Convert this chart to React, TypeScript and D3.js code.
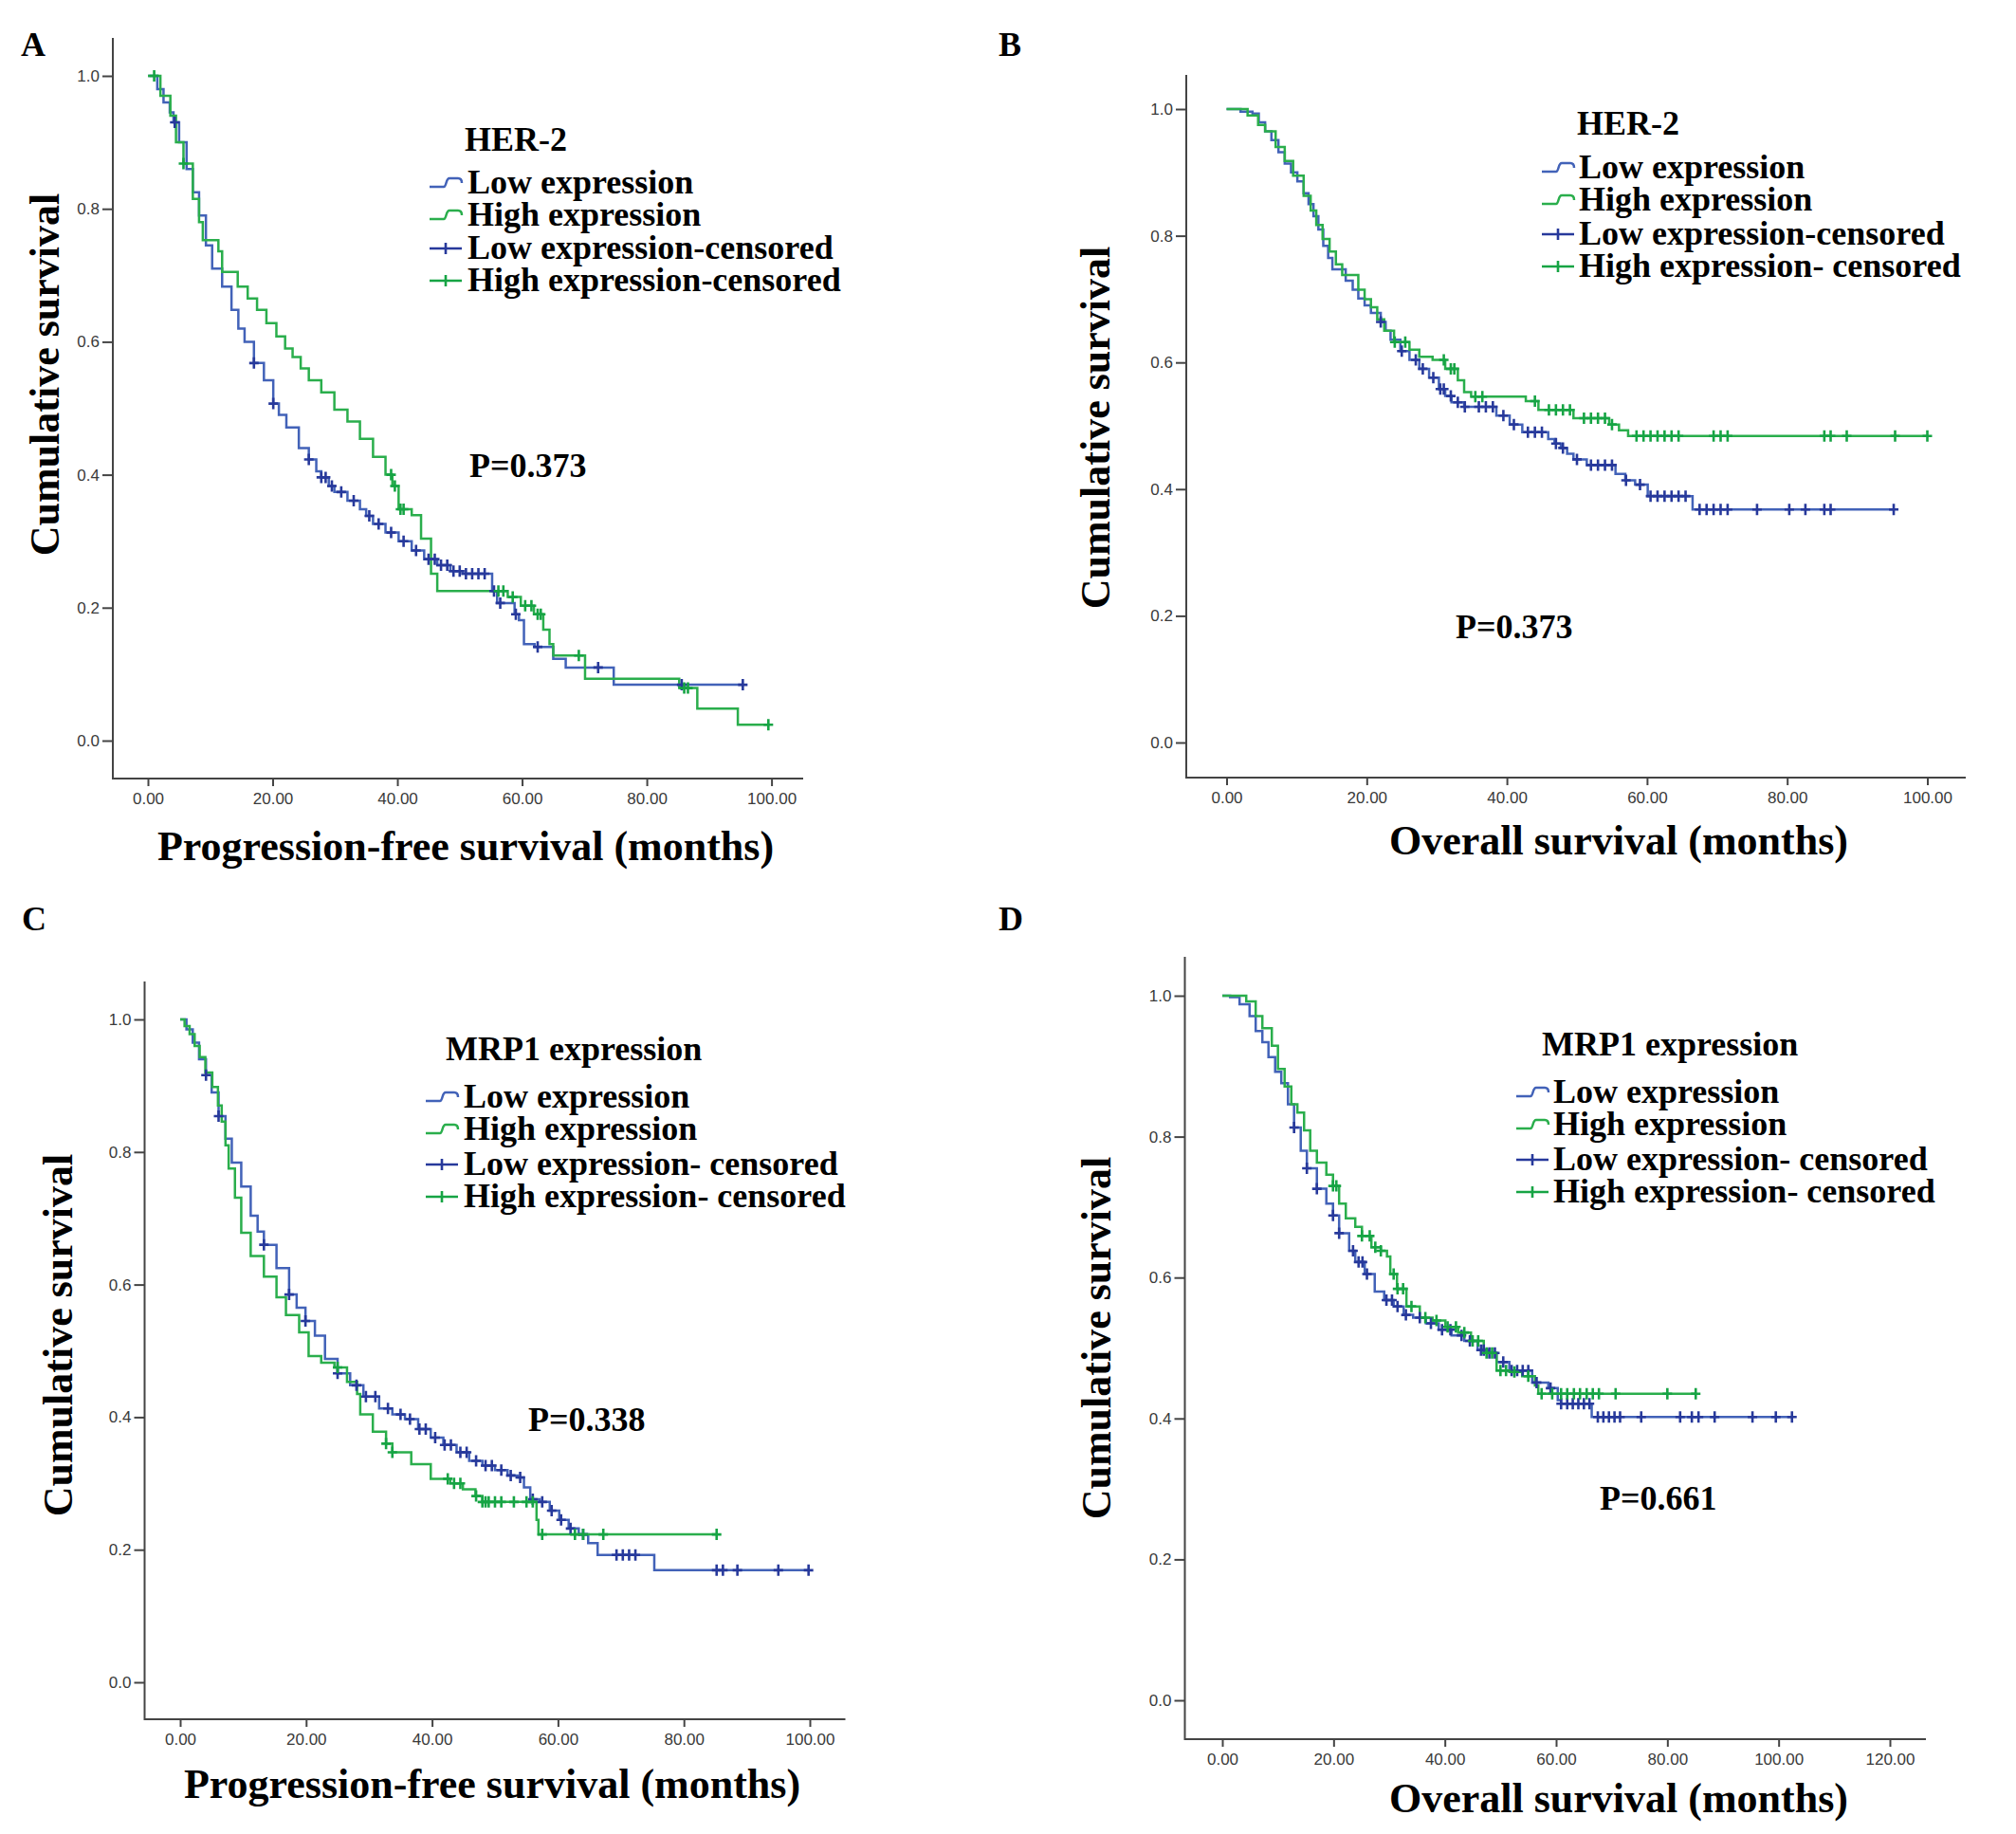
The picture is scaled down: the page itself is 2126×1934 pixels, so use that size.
import React, { useEffect, useRef } from 'react';
import * as d3 from 'd3';

// Kaplan-Meier curves: [months, cumulative survival]
const herPfsLow: [number, number][] = [[0,1],[1.5,0.98],[2.5,0.96],[3.5,0.945],[4.1,0.93],[5,0.9],[6.2,0.86],[7.2,0.825],[8.2,0.79],[9.3,0.745],[10.3,0.71],[11.9,0.683],[13.4,0.648],[14.5,0.62],[15.5,0.6],[17,0.568],[18.6,0.542],[20.1,0.507],[21,0.49],[22.2,0.471],[24.2,0.44],[25.8,0.423],[27,0.405],[27.8,0.396],[29,0.383],[29.9,0.374],[32,0.361],[34,0.348],[35,0.338],[36.1,0.326],[38.1,0.313],[40.2,0.3],[42.3,0.286],[44.3,0.273],[46.4,0.264],[48.5,0.255],[50.5,0.251],[55.2,0.225],[56,0.207],[58.8,0.19],[59.5,0.181],[60.3,0.145],[62,0.141],[65,0.123],[67,0.11],[74.7,0.084]];
const herPfsLowCensored = [4.3,17,20.1,25.8,27.8,28.5,29.5,31,33,35.5,37,39,41,43,45,46,47,48,49,50,51,52,53,54,55.5,56.5,59,62.5,72.2,85.6,95.4];
const herPfsHigh: [number, number][] = [[0,1],[2,0.97],[3.6,0.94],[4.5,0.9],[5.7,0.868],[7.2,0.815],[8.2,0.78],[8.8,0.753],[11.3,0.736],[11.9,0.705],[14.4,0.683],[16,0.665],[17.5,0.648],[19,0.628],[20.6,0.608],[22,0.59],[23.2,0.577],[24.5,0.56],[25.8,0.542],[27.8,0.524],[29.9,0.498],[32,0.48],[34,0.454],[36.1,0.427],[38.1,0.4],[39.2,0.383],[40.2,0.348],[42.3,0.339],[43.8,0.304],[45.4,0.251],[46.4,0.225],[57.7,0.216],[59.8,0.203],[61.9,0.19],[63.4,0.167],[64.4,0.145],[65,0.128],[70.1,0.093],[85.2,0.079],[88.1,0.048],[94.6,0.024]];
const herPfsHighCensored = [1,5.7,39,39.6,40.5,41,56.2,57,58.5,60.5,61.5,62.5,63,69.1,86,86.6,99.5];

const herOsLow: [number, number][] = [[0,1],[2,0.996],[3.7,0.993],[4.6,0.979],[5.5,0.965],[6.4,0.951],[7.4,0.932],[8.3,0.914],[9.2,0.9],[10.1,0.886],[11,0.867],[11.7,0.85],[12.4,0.831],[13.1,0.81],[13.8,0.784],[14.5,0.765],[15.1,0.747],[17,0.729],[18,0.715],[18.8,0.701],[19.7,0.69],[20.6,0.678],[22,0.664],[22.7,0.65],[23.4,0.636],[24.8,0.618],[26.1,0.604],[27.5,0.59],[28.9,0.576],[30.3,0.558],[31.2,0.547],[32.1,0.537],[33.9,0.53],[38.5,0.516],[40.4,0.502],[42.2,0.49],[45.9,0.479],[46.8,0.472],[47.7,0.465],[48.6,0.456],[49.5,0.447],[51.4,0.438],[55.5,0.424],[56.9,0.414],[58.3,0.407],[60.1,0.389],[66.5,0.368]];
const herOsLowCensored = [22,25,27,28,29.5,30.5,31,32,33,34,36,37,38,39.5,41,43,44,45,47,48,50,52,53,54,55,57,59,60.5,61.5,62.5,63.5,64.5,65.5,67.5,68.5,69.5,70.5,71.5,75.7,80.3,82.6,85.3,86.2,95.2];
const herOsHigh: [number, number][] = [[0,1],[3,0.99],[4.5,0.975],[5.5,0.965],[7,0.94],[8.3,0.918],[9.5,0.895],[11,0.863],[12,0.84],[12.8,0.817],[13.7,0.795],[14.7,0.775],[15.6,0.755],[16.5,0.738],[18.8,0.715],[19.7,0.7],[20.6,0.687],[21.5,0.668],[22.5,0.65],[23.9,0.632],[26.1,0.62],[27.5,0.609],[29.4,0.604],[31.2,0.59],[33,0.572],[33.9,0.553],[34.9,0.546],[42.7,0.539],[44.5,0.525],[49.5,0.512],[54.6,0.502],[56,0.493],[57.3,0.484]];
const herOsHighCensored = [24,25.5,31,32,32.5,35.5,36.5,44,46,47,48,49,51,52,53,54,55,58.5,59.5,60.5,61.5,62.5,63.5,64.5,69.5,70.5,71.5,85.3,86.2,88.5,95.4,100];

const mrpPfsLow: [number, number][] = [[0,1],[1,0.985],[2,0.965],[3,0.94],[4.1,0.916],[5,0.89],[6.1,0.854],[7.2,0.82],[8.2,0.784],[9.7,0.748],[11.2,0.704],[12.3,0.68],[13.3,0.66],[15.3,0.625],[17.3,0.585],[18.5,0.565],[19.9,0.545],[21.4,0.523],[23,0.488],[25,0.466],[27,0.448],[29.1,0.431],[31.6,0.413],[33.7,0.404],[35.7,0.397],[37.8,0.382],[39.8,0.369],[41.8,0.358],[43.9,0.347],[45.9,0.334],[48,0.327],[50,0.32],[52,0.312],[53.6,0.309],[54.6,0.294],[55.6,0.276],[57.1,0.272],[58.7,0.259],[60.2,0.245],[61.7,0.232],[63.3,0.223],[64.8,0.21],[66.3,0.192],[75.3,0.169]];
const mrpPfsLowCensored = [4.1,6.1,13.3,17.3,19.9,25,28,29.5,31,33,35,36.5,38,39,40.5,42,43,44.5,45.5,47,48.5,49.5,51,52.5,54,56,57.5,59,60.5,62,64,69.3,70.3,71.3,72.3,85.2,86.2,88.5,95,99.8];
const mrpPfsHigh: [number, number][] = [[0,1],[0.7,0.99],[1.5,0.978],[2.3,0.96],[3.1,0.943],[4,0.92],[5.1,0.898],[6,0.87],[6.6,0.846],[7.2,0.81],[7.7,0.775],[8.7,0.731],[9.7,0.678],[11.2,0.643],[13.3,0.612],[15.3,0.581],[16.8,0.554],[18.9,0.528],[20.4,0.492],[22.4,0.482],[24.5,0.475],[26.5,0.453],[28.1,0.435],[28.6,0.404],[30.6,0.378],[32.7,0.36],[33.7,0.347],[36.7,0.329],[39.8,0.307],[42.9,0.3],[44.9,0.291],[46.9,0.281],[48,0.272],[56.6,0.245],[56.9,0.223]];
const mrpPfsHighCensored = [25,32.7,33.7,42.5,43.5,44.5,47,48,48.5,49,50,51,53,55,56,57.5,62.7,64,67.2,85.2];

const mrpOsLow: [number, number][] = [[0,1],[1.4,0.998],[3.1,0.988],[4.9,0.971],[6,0.95],[7.2,0.934],[8.3,0.913],[9.5,0.892],[10.6,0.876],[11.8,0.846],[12.9,0.813],[14.1,0.78],[15.2,0.755],[17,0.726],[18.7,0.705],[19.9,0.688],[21,0.663],[22.8,0.638],[23.9,0.622],[25.6,0.605],[27.4,0.58],[29.1,0.568],[30.8,0.559],[32.6,0.547],[34.3,0.543],[36.6,0.535],[38.9,0.526],[41.2,0.518],[43.5,0.51],[45.9,0.497],[47.6,0.493],[49.3,0.48],[51.6,0.468],[55.7,0.451],[58.6,0.443],[60.3,0.426],[60.9,0.421],[66.4,0.402]];
const mrpOsLowCensored = [12.9,15.2,17,19.9,21,23.5,24.5,25.2,26,29.5,30.5,31.5,33,35.5,37.5,39.5,41,43,44.5,46.5,47,48,49,50.5,52,53,54,55,56.5,59,60.9,62,63,64,65,66,67.5,68.5,69.5,70.5,71.5,75.3,82.3,84.4,85.6,88.5,95.3,99.5,102.4];
const mrpOsHigh: [number, number][] = [[0,1],[4.3,0.992],[6,0.971],[7.2,0.954],[8.9,0.929],[10,0.896],[11.2,0.871],[12.4,0.846],[13.5,0.834],[14.7,0.809],[15.8,0.78],[17,0.763],[18.7,0.746],[19.9,0.73],[21,0.705],[22.2,0.684],[23.9,0.672],[25.1,0.659],[26.8,0.643],[28.5,0.638],[29.6,0.63],[30.2,0.605],[31.4,0.584],[33.1,0.559],[35.5,0.543],[37.8,0.539],[40.1,0.53],[42.4,0.522],[44.7,0.51],[47,0.493],[49.3,0.468],[51.6,0.466],[53.9,0.46],[56.2,0.447],[56.8,0.435]];
const mrpOsHighCensored = [19.9,20.5,25.1,26.5,27.5,28.5,30.8,31.5,32.5,34,36.5,38.5,40.5,42,43.5,45,46,47.5,48.5,50,51,52.5,55,57.4,59.3,60.9,62,63.2,64.3,65.5,66.6,67.7,70.7,80,85.1];

const yTicks = [0, 0.2, 0.4, 0.6, 0.8, 1.0];
const xTicks100 = [0, 20, 40, 60, 80, 100];
const xTicks120 = [0, 20, 40, 60, 80, 100, 120];

const legendA = ['Low expression', 'High expression', 'Low expression-censored', 'High expression-censored'];
const legendB = ['Low expression', 'High expression', 'Low expression-censored', 'High expression- censored'];
const legendCD = ['Low expression', 'High expression', 'Low expression- censored', 'High expression- censored'];

const LOW_LINE = '#4262b8';
const LOW_MARK = '#27399b';
const HIGH_LINE = '#2aae4c';
const HIGH_MARK = '#16a444';
const SERIF = '"Liberation Serif", "Times New Roman", serif';
const SANS = '"Liberation Sans", Arial, sans-serif';

const panels = [
  {
    letter: 'A', letterX: 22, letterY: 59,
    axisX: 119, yTop: 40, xAxisY: 821, xEnd: 847, x0: 156, xMaxPx: 813.6, y0: 781, y1: 80,
    xTicks: xTicks100, xTitle: 'Progression-free survival (months)', xTitleX: 491, xTitleY: 907,
    yTitleX: 62, yTitleY: 395,
    legendTitle: 'HER-2', ltX: 490, ltY: 159, iconX: 453, textX: 493, rows: [204, 238, 273, 307], labels: legendA,
    p: 'P=0.373', pX: 495, pY: 503,
    low: herPfsLow, lowC: herPfsLowCensored, high: herPfsHigh, highC: herPfsHighCensored,
  },
  {
    letter: 'B', letterX: 1053, letterY: 59,
    axisX: 1251, yTop: 79, xAxisY: 820, xEnd: 2073, x0: 1293.5, xMaxPx: 2032.5, y0: 783, y1: 115,
    xTicks: xTicks100, xTitle: 'Overall survival (months)', xTitleX: 1707, xTitleY: 901,
    yTitleX: 1170, yTitleY: 451,
    legendTitle: 'HER-2', ltX: 1663, ltY: 142, iconX: 1626, textX: 1665, rows: [188, 222, 258, 292], labels: legendB,
    p: 'P=0.373', pX: 1535, pY: 673,
    low: herOsLow, lowC: herOsLowCensored, high: herOsHigh, highC: herOsHighCensored,
  },
  {
    letter: 'C', letterX: 23, letterY: 981,
    axisX: 152.5, yTop: 1035, xAxisY: 1813, xEnd: 891.5, x0: 190, xMaxPx: 854, y0: 1774, y1: 1075,
    xTicks: xTicks100, xTitle: 'Progression-free survival (months)', xTitleX: 519, xTitleY: 1896,
    yTitleX: 76, yTitleY: 1408,
    legendTitle: 'MRP1 expression', ltX: 470, ltY: 1118, iconX: 449, textX: 489, rows: [1168, 1202, 1239, 1273], labels: legendCD,
    p: 'P=0.338', pX: 557, pY: 1509,
    low: mrpPfsLow, lowC: mrpPfsLowCensored, high: mrpPfsHigh, highC: mrpPfsHighCensored,
  },
  {
    letter: 'D', letterX: 1053, letterY: 981,
    axisX: 1249.5, yTop: 1009, xAxisY: 1834, xEnd: 2031, x0: 1289, xMaxPx: 1993, y0: 1793, y1: 1050,
    xTicks: xTicks120, xTitle: 'Overall survival (months)', xTitleX: 1707, xTitleY: 1911,
    yTitleX: 1171, yTitleY: 1411,
    legendTitle: 'MRP1 expression', ltX: 1626, ltY: 1113, iconX: 1599, textX: 1638, rows: [1163, 1197, 1234, 1268], labels: legendCD,
    p: 'P=0.661', pX: 1687, pY: 1592,
    low: mrpOsLow, lowC: mrpOsLowCensored, high: mrpOsHigh, highC: mrpOsHighCensored,
  },
];

const survivalAt = (curve: [number, number][], t: number) => {
  let s = 1;
  for (const [time, value] of curve) {
    if (time <= t) s = value;
  }
  return s;
};

const App: React.FC = () => {
  const svgRef = useRef<SVGSVGElement | null>(null);

  useEffect(() => {
    const svg = d3.select(svgRef.current);
    svg.selectAll('*').remove();
    svg.append('rect').attr('width', 2126).attr('height', 1934).attr('fill', '#fff');

    panels.forEach((p) => {
      const g = svg.append('g');
      const xMax = p.xTicks[p.xTicks.length - 1];
      const x = d3.scaleLinear().domain([0, xMax]).range([p.x0, p.xMaxPx]);
      const y = d3.scaleLinear().domain([0, 1]).range([p.y0, p.y1]);

      // axes
      const yAxis = g.append('g').attr('transform', `translate(${p.axisX},0)`)
        .call(d3.axisLeft(y).tickValues(yTicks).tickFormat(d3.format('.1f')).tickSize(11).tickPadding(3));
      const xAxis = g.append('g').attr('transform', `translate(0,${p.xAxisY})`)
        .call(d3.axisBottom(x).tickValues(p.xTicks).tickFormat(d3.format('.2f')).tickSize(8).tickPadding(7));
      [yAxis, xAxis].forEach((a) => {
        a.select('.domain').remove();
        a.selectAll('line').attr('stroke', '#444').attr('stroke-width', 2);
        a.selectAll('text').attr('font-family', SANS).attr('font-size', 17).attr('fill', '#3a3a3a');
      });
      g.append('path')
        .attr('d', `M${p.axisX},${p.yTop}V${p.xAxisY}H${p.xEnd}`)
        .attr('fill', 'none').attr('stroke', '#444').attr('stroke-width', 2);

      // curves
      const line = d3.line<[number, number]>().x((d) => x(d[0])).y((d) => y(d[1])).curve(d3.curveStepAfter);
      const series = [
        { curve: p.low, cens: p.lowC, lc: LOW_LINE, mc: LOW_MARK },
        { curve: p.high, cens: p.highC, lc: HIGH_LINE, mc: HIGH_MARK },
      ];
      series.forEach((s) => {
        const end = d3.max(s.cens) ?? s.curve[s.curve.length - 1][0];
        const pts: [number, number][] = [...s.curve, [end, s.curve[s.curve.length - 1][1]]];
        g.append('path').datum(pts).attr('d', line).attr('fill', 'none')
          .attr('stroke', s.lc).attr('stroke-width', 2.5);
      });
      series.forEach((s) => {
        g.append('g').selectAll('path').data(s.cens).enter().append('path')
          .attr('d', (t) => {
            const cx = x(t);
            const cy = y(survivalAt(s.curve, t));
            return `M${cx - 5},${cy}H${cx + 5}M${cx},${cy - 6}V${cy + 6}`;
          })
          .attr('stroke', s.mc).attr('stroke-width', 2.6).attr('fill', 'none');
      });

      // titles
      g.append('text').attr('x', p.letterX).attr('y', p.letterY).text(p.letter)
        .attr('font-family', SERIF).attr('font-weight', 'bold').attr('font-size', 36);
      g.append('text').attr('x', p.xTitleX).attr('y', p.xTitleY).attr('text-anchor', 'middle').text(p.xTitle)
        .attr('font-family', SERIF).attr('font-weight', 'bold').attr('font-size', 44);
      g.append('text').attr('transform', `translate(${p.yTitleX},${p.yTitleY}) rotate(-90)`)
        .attr('text-anchor', 'middle').text('Cumulative survival')
        .attr('font-family', SERIF).attr('font-weight', 'bold').attr('font-size', 44);
      g.append('text').attr('x', p.pX).attr('y', p.pY).text(p.p)
        .attr('font-family', SERIF).attr('font-weight', 'bold').attr('font-size', 36);

      // legend
      g.append('text').attr('x', p.ltX).attr('y', p.ltY).text(p.legendTitle)
        .attr('font-family', SERIF).attr('font-weight', 'bold').attr('font-size', 36);
      const colors = [LOW_LINE, HIGH_LINE, LOW_MARK, HIGH_MARK];
      p.labels.forEach((label, i) => {
        const by = p.rows[i];
        const cy = by - 11;
        const ix = p.iconX;
        if (i < 2) {
          g.append('path')
            .attr('d', `M${ix},${cy + 4}H${ix + 15}C${ix + 18},${cy + 4} ${ix + 17},${cy - 5} ${ix + 21},${cy - 5}H${ix + 30}Q${ix + 34},${cy - 5} ${ix + 34},${cy}`)
            .attr('fill', 'none').attr('stroke', colors[i]).attr('stroke-width', 2.5);
        } else {
          g.append('path')
            .attr('d', `M${ix},${cy}H${ix + 34}M${ix + 17},${cy - 6}V${cy + 6}`)
            .attr('fill', 'none').attr('stroke', colors[i]).attr('stroke-width', 2.6);
        }
        g.append('text').attr('x', p.textX).attr('y', by).text(label)
          .attr('font-family', SERIF).attr('font-weight', 'bold').attr('font-size', 36);
      });
    });
  }, []);

  return (
    <svg ref={svgRef} width={2126} height={1934}
      style={{ position: 'absolute', left: 0, top: 0, display: 'block' }} />
  );
};

export default App;
